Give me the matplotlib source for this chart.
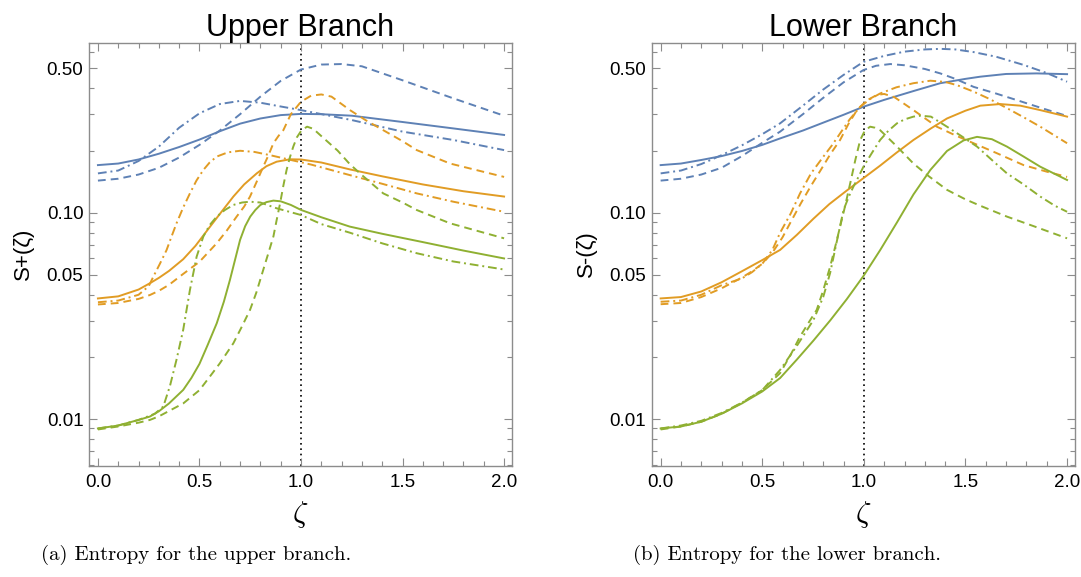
import matplotlib
matplotlib.use("Agg")
import matplotlib.pyplot as plt
from matplotlib.ticker import FixedLocator, FixedFormatter, NullFormatter

plt.rcParams["mathtext.fontset"] = "cm"

# ---------------- data ----------------
# Upper branch (left panel)
ub_blue_solid_z = [0, 0.1, 0.2, 0.3, 0.4, 0.5, 0.6, 0.7, 0.8, 0.9, 1.0, 1.1, 1.25, 1.5, 1.75, 2.0]
ub_blue_solid_s = [0.170, 0.173, 0.181, 0.193, 0.208, 0.226, 0.248, 0.270, 0.286, 0.297, 0.301, 0.300, 0.295, 0.275, 0.256, 0.238]
ub_blue_dash_z = [0, 0.1, 0.2, 0.3, 0.4, 0.5, 0.6, 0.7, 0.8, 0.9, 1.0, 1.1, 1.2, 1.3, 1.5, 1.75, 2.0]
ub_blue_dash_s = [0.143, 0.146, 0.153, 0.165, 0.185, 0.213, 0.250, 0.300, 0.365, 0.435, 0.494, 0.522, 0.525, 0.512, 0.438, 0.358, 0.295]
ub_blue_dd_z = [0, 0.1, 0.2, 0.3, 0.4, 0.5, 0.6, 0.7, 0.8, 0.9, 1.0, 1.25, 1.5, 1.75, 2.0]
ub_blue_dd_s = [0.155, 0.160, 0.178, 0.209, 0.258, 0.303, 0.336, 0.348, 0.341, 0.327, 0.314, 0.281, 0.247, 0.225, 0.201]

ub_orange_solid_z = [0, 0.1, 0.2, 0.256, 0.3, 0.35, 0.42, 0.48, 0.552, 0.6, 0.667, 0.72, 0.782, 0.83, 0.88, 0.946, 1.0, 1.1, 1.241, 1.4, 1.6, 1.8, 2.0]
ub_orange_solid_s = [0.0384, 0.0393, 0.0424, 0.0455, 0.0483, 0.0522, 0.0595, 0.069, 0.0855, 0.0985, 0.1197, 0.137, 0.155, 0.168, 0.1766, 0.1814, 0.181, 0.175, 0.162, 0.150, 0.137, 0.127, 0.1197]
ub_orange_dash_z = [0, 0.1, 0.2, 0.256, 0.3, 0.35, 0.42, 0.5, 0.585, 0.635, 0.683, 0.72, 0.749, 0.78, 0.814, 0.84, 0.864, 0.89, 0.913, 0.95, 1.0, 1.05, 1.1, 1.15, 1.241, 1.32, 1.405, 1.5, 1.57, 1.734, 2.0]
ub_orange_dash_s = [0.0359, 0.0365, 0.0382, 0.0399, 0.0418, 0.0447, 0.0505, 0.0578, 0.0711, 0.082, 0.0957, 0.107, 0.1197, 0.140, 0.167, 0.190, 0.217, 0.236, 0.251, 0.300, 0.345, 0.369, 0.374, 0.365, 0.314, 0.280, 0.251, 0.222, 0.201, 0.173, 0.149]
ub_orange_dd_z = [0, 0.1, 0.2, 0.25, 0.273, 0.305, 0.338, 0.36, 0.387, 0.42, 0.453, 0.485, 0.519, 0.55, 0.585, 0.64, 0.7, 0.77, 0.847, 0.95, 1.05, 1.241, 1.4, 1.57, 1.75, 2.0]
ub_orange_dd_s = [0.0368, 0.0375, 0.0400, 0.044, 0.049, 0.0565, 0.0659, 0.0755, 0.0888, 0.106, 0.124, 0.143, 0.161, 0.175, 0.187, 0.196, 0.1995, 0.197, 0.190, 0.180, 0.171, 0.152, 0.138, 0.124, 0.113, 0.101]

ub_green_solid_z = [0, 0.1, 0.2, 0.256, 0.3, 0.35, 0.42, 0.46, 0.5, 0.54, 0.585, 0.62, 0.65, 0.675, 0.7, 0.725, 0.75, 0.775, 0.8, 0.83, 0.864, 0.9, 0.95, 1.0, 1.1, 1.24, 1.4, 1.6, 1.8, 2.0]
ub_green_solid_s = [0.0090, 0.0093, 0.0099, 0.01028, 0.0109, 0.0119, 0.01384, 0.0158, 0.0185, 0.0228, 0.0291, 0.0370, 0.0472, 0.059, 0.0738, 0.086, 0.0957, 0.103, 0.109, 0.1125, 0.1144, 0.1135, 0.109, 0.1031, 0.095, 0.0856, 0.079, 0.072, 0.0655, 0.060]
ub_green_dash_z = [0, 0.1, 0.2, 0.256, 0.3, 0.42, 0.5, 0.552, 0.6, 0.667, 0.71, 0.749, 0.78, 0.814, 0.84, 0.864, 0.88, 0.897, 0.913, 0.929, 0.945, 0.962, 0.98, 1.003, 1.03, 1.06, 1.1, 1.18, 1.24, 1.3, 1.405, 1.5, 1.57, 1.734, 2.0]
ub_green_dash_s = [0.0089, 0.0092, 0.0096, 0.0099, 0.0103, 0.0119, 0.0138, 0.0161, 0.0186, 0.0233, 0.0282, 0.0338, 0.041, 0.0528, 0.064, 0.0766, 0.092, 0.111, 0.135, 0.161, 0.185, 0.209, 0.232, 0.251, 0.261, 0.255, 0.235, 0.200, 0.172, 0.152, 0.124, 0.112, 0.103, 0.0888, 0.0751]
ub_green_dd_z = [0, 0.1, 0.2, 0.28, 0.322, 0.355, 0.387, 0.42, 0.453, 0.486, 0.519, 0.55, 0.585, 0.625, 0.667, 0.71, 0.749, 0.8, 0.88, 1.0, 1.1, 1.24, 1.4, 1.57, 1.75, 1.96, 2.0]
ub_green_dd_s = [0.0090, 0.0093, 0.0099, 0.0106, 0.0115, 0.0145, 0.0194, 0.0271, 0.0422, 0.0612, 0.0766, 0.087, 0.0957, 0.103, 0.109, 0.112, 0.113, 0.112, 0.105, 0.0974, 0.088, 0.080, 0.071, 0.0636, 0.058, 0.0538, 0.0530]

# Lower branch (right panel)
lb_blue_solid_z = [0, 0.1, 0.2, 0.3, 0.4, 0.5, 0.588, 0.7, 0.8, 0.9, 0.998, 1.1, 1.25, 1.376, 1.5, 1.573, 1.7, 1.85, 2.0]
lb_blue_solid_s = [0.170, 0.173, 0.180, 0.188, 0.199, 0.213, 0.229, 0.250, 0.273, 0.298, 0.326, 0.352, 0.390, 0.424, 0.445, 0.456, 0.470, 0.473, 0.469]
lb_blue_dash_z = [0, 0.1, 0.2, 0.3, 0.4, 0.5, 0.588, 0.7, 0.8, 0.9, 0.998, 1.06, 1.13, 1.2, 1.3, 1.376, 1.45, 1.54, 1.65, 1.753, 1.88, 2.0]
lb_blue_dash_s = [0.143, 0.146, 0.153, 0.165, 0.188, 0.218, 0.247, 0.300, 0.360, 0.428, 0.491, 0.515, 0.525, 0.518, 0.497, 0.473, 0.445, 0.407, 0.378, 0.351, 0.320, 0.294]
lb_blue_dd_z = [0, 0.1, 0.2, 0.3, 0.4, 0.5, 0.588, 0.7, 0.8, 0.9, 0.998, 1.1, 1.2, 1.3, 1.376, 1.45, 1.54, 1.65, 1.786, 1.9, 2.0]
lb_blue_dd_s = [0.155, 0.160, 0.172, 0.190, 0.212, 0.240, 0.271, 0.330, 0.395, 0.465, 0.538, 0.575, 0.603, 0.618, 0.622, 0.618, 0.600, 0.570, 0.520, 0.475, 0.431]

lb_orange_solid_z = [0, 0.1, 0.2, 0.3, 0.4, 0.5, 0.588, 0.67, 0.752, 0.83, 0.916, 0.998, 1.08, 1.16, 1.244, 1.33, 1.409, 1.5, 1.573, 1.671, 1.77, 1.868, 2.0]
lb_orange_solid_s = [0.0384, 0.039, 0.0415, 0.046, 0.052, 0.0589, 0.066, 0.078, 0.0935, 0.110, 0.128, 0.147, 0.169, 0.195, 0.225, 0.256, 0.286, 0.312, 0.330, 0.336, 0.330, 0.314, 0.292]
lb_orange_dash_z = [0, 0.1, 0.2, 0.3, 0.4, 0.45, 0.5, 0.55, 0.6, 0.645, 0.69, 0.74, 0.788, 0.835, 0.883, 0.925, 0.966, 1.015, 1.064, 1.1, 1.15, 1.244, 1.359, 1.45, 1.54, 1.65, 1.786, 1.9, 2.0]
lb_orange_dash_s = [0.036, 0.0365, 0.039, 0.043, 0.0485, 0.052, 0.0565, 0.064, 0.076, 0.092, 0.111, 0.135, 0.161, 0.192, 0.225, 0.27, 0.314, 0.350, 0.372, 0.376, 0.363, 0.314, 0.261, 0.237, 0.217, 0.195, 0.170, 0.158, 0.149]
lb_orange_dd_z = [0, 0.1, 0.2, 0.3, 0.4, 0.45, 0.5, 0.55, 0.588, 0.64, 0.686, 0.74, 0.801, 0.843, 0.883, 0.93, 0.982, 1.03, 1.08, 1.16, 1.244, 1.327, 1.4, 1.458, 1.54, 1.62, 1.704, 1.786, 1.868, 1.94, 2.0]
lb_orange_dd_s = [0.037, 0.0375, 0.040, 0.0445, 0.048, 0.0515, 0.0565, 0.066, 0.080, 0.099, 0.124, 0.155, 0.187, 0.212, 0.242, 0.283, 0.326, 0.355, 0.378, 0.405, 0.424, 0.436, 0.430, 0.415, 0.386, 0.355, 0.321, 0.290, 0.261, 0.236, 0.217]

lb_green_solid_z = [0, 0.1, 0.2, 0.3, 0.4, 0.5, 0.588, 0.67, 0.752, 0.835, 0.916, 0.998, 1.08, 1.163, 1.244, 1.327, 1.409, 1.491, 1.557, 1.63, 1.704, 1.786, 1.868, 1.94, 2.0]
lb_green_solid_s = [0.0090, 0.0092, 0.0097, 0.0106, 0.0119, 0.0136, 0.0158, 0.0194, 0.0240, 0.0301, 0.0381, 0.0493, 0.0658, 0.0897, 0.1225, 0.161, 0.199, 0.224, 0.233, 0.227, 0.209, 0.187, 0.167, 0.154, 0.144]
lb_green_dash_z = [0, 0.1, 0.2, 0.3, 0.4, 0.5, 0.588, 0.64, 0.686, 0.73, 0.768, 0.8, 0.834, 0.86, 0.883, 0.908, 0.933, 0.958, 0.982, 1.005, 1.031, 1.055, 1.08, 1.12, 1.163, 1.244, 1.32, 1.409, 1.5, 1.573, 1.704, 1.85, 2.0]
lb_green_dash_s = [0.0089, 0.0092, 0.0097, 0.0106, 0.0120, 0.0138, 0.0167, 0.0205, 0.0251, 0.0295, 0.0338, 0.042, 0.0547, 0.069, 0.0855, 0.108, 0.139, 0.18, 0.225, 0.250, 0.261, 0.258, 0.251, 0.230, 0.209, 0.173, 0.150, 0.129, 0.116, 0.108, 0.0957, 0.085, 0.0751]
lb_green_dd_z = [0, 0.1, 0.2, 0.3, 0.4, 0.5, 0.588, 0.67, 0.752, 0.8, 0.834, 0.87, 0.9, 0.925, 0.949, 0.975, 0.998, 1.04, 1.08, 1.12, 1.163, 1.2, 1.244, 1.28, 1.33, 1.409, 1.48, 1.557, 1.63, 1.704, 1.786, 1.868, 1.94, 2.0]
lb_green_dd_s = [0.0090, 0.0093, 0.0098, 0.0107, 0.0120, 0.0138, 0.0173, 0.0226, 0.0302, 0.039, 0.051, 0.075, 0.103, 0.119, 0.134, 0.150, 0.167, 0.195, 0.225, 0.249, 0.271, 0.283, 0.292, 0.295, 0.292, 0.261, 0.235, 0.209, 0.180, 0.155, 0.137, 0.1197, 0.108, 0.101]

titles = ["Upper Branch", "Lower Branch"]
ylabels = ["S+(\u03b6)", "S-(\u03b6)"]
captions = ["(a) Entropy for the upper branch.", "(b) Entropy for the lower branch."]
ytick_vals = [0.01, 0.05, 0.10, 0.50]
ytick_labels = ["0.01", "0.05", "0.10", "0.50"]
yminor_vals = [0.006, 0.007, 0.008, 0.009, 0.02, 0.03, 0.04, 0.06, 0.07, 0.08, 0.09, 0.2, 0.3, 0.4, 0.6]
xtick_vals = [0.0, 0.5, 1.0, 1.5, 2.0]
xtick_labels = ["0.0", "0.5", "1.0", "1.5", "2.0"]

# ---------------- styling ----------------
BLUE = "#5E81B5"
ORANGE = "#E19C24"
GREEN = "#8FB032"
SOLID = "-"
DASH = (0, (4.0, 2.6))
DDOT = (0, (4.5, 2.0, 1.0, 2.0))
LW = 1.4
FRAME = "#8c8c8c"

panels = [
    [
        (ub_blue_solid_z, ub_blue_solid_s, BLUE, SOLID),
        (ub_blue_dash_z, ub_blue_dash_s, BLUE, DASH),
        (ub_blue_dd_z, ub_blue_dd_s, BLUE, DDOT),
        (ub_orange_solid_z, ub_orange_solid_s, ORANGE, SOLID),
        (ub_orange_dash_z, ub_orange_dash_s, ORANGE, DASH),
        (ub_orange_dd_z, ub_orange_dd_s, ORANGE, DDOT),
        (ub_green_solid_z, ub_green_solid_s, GREEN, SOLID),
        (ub_green_dash_z, ub_green_dash_s, GREEN, DASH),
        (ub_green_dd_z, ub_green_dd_s, GREEN, DDOT),
    ],
    [
        (lb_blue_solid_z, lb_blue_solid_s, BLUE, SOLID),
        (lb_blue_dash_z, lb_blue_dash_s, BLUE, DASH),
        (lb_blue_dd_z, lb_blue_dd_s, BLUE, DDOT),
        (lb_orange_solid_z, lb_orange_solid_s, ORANGE, SOLID),
        (lb_orange_dash_z, lb_orange_dash_s, ORANGE, DASH),
        (lb_orange_dd_z, lb_orange_dd_s, ORANGE, DDOT),
        (lb_green_solid_z, lb_green_solid_s, GREEN, SOLID),
        (lb_green_dash_z, lb_green_dash_s, GREEN, DASH),
        (lb_green_dd_z, lb_green_dd_s, GREEN, DDOT),
    ],
]

W, H = 1081, 577
fig = plt.figure(figsize=(W / 100, H / 100), dpi=100)
fig.patch.set_facecolor("white")

axes_px = [(89, 43, 512, 466), (651.7, 43, 1075, 466)]
ylabel_x = [23, 586]
caption_x = [196, 787]

for i, (x0, y0, x1, y1) in enumerate(axes_px):
    ax = fig.add_axes([x0 / W, 1 - y1 / H, (x1 - x0) / W, (y1 - y0) / H])
    for z, s, c, ls in panels[i]:
        ax.plot(z, s, color=c, linestyle=ls, lw=LW, solid_joinstyle="round")
    ax.axvline(1.0, color="black", linestyle=(0, (1, 2.2)), lw=1.2, zorder=0.5)
    ax.set_yscale("log")
    ax.set_xlim(-0.044, 2.039)
    ax.set_ylim(0.00592, 0.664)

    ax.yaxis.set_major_locator(FixedLocator(ytick_vals))
    ax.yaxis.set_major_formatter(FixedFormatter(ytick_labels))
    ax.yaxis.set_minor_locator(FixedLocator(yminor_vals))
    ax.yaxis.set_minor_formatter(NullFormatter())
    ax.xaxis.set_major_locator(FixedLocator(xtick_vals))
    ax.xaxis.set_major_formatter(FixedFormatter(xtick_labels))
    ax.xaxis.set_minor_locator(FixedLocator([k / 10 for k in range(0, 21) if k % 5 != 0]))

    ax.tick_params(which="both", direction="in", top=True, right=True, color=FRAME, width=0.8)
    ax.tick_params(which="major", length=6)
    ax.tick_params(which="minor", length=3.5)
    ax.tick_params(axis="y", which="major", pad=4)
    ax.tick_params(axis="x", which="major", pad=6)
    for lab in ax.get_xticklabels() + ax.get_yticklabels():
        lab.set_fontfamily("Liberation Sans")
        lab.set_fontsize(13.5)
    for sp in ax.spines.values():
        sp.set_color(FRAME)
        sp.set_linewidth(1.0)

    ax.set_title(titles[i], fontsize=22, fontfamily="Liberation Sans", pad=4)
    cx = (x0 + x1) / 2
    fig.text(cx / W, 1 - 515 / H, r"$\zeta$", fontsize=22, ha="center", va="center")
    fig.text(ylabel_x[i] / W, 1 - 254 / H, ylabels[i], rotation=90, fontsize=16,
             fontfamily="Liberation Sans", ha="center", va="center")
    fig.text(caption_x[i] / W, 1 - 555 / H, captions[i], fontsize=15,
             fontfamily="cmr10", ha="center", va="center")

fig.savefig("out.png", dpi=100, facecolor="white")
